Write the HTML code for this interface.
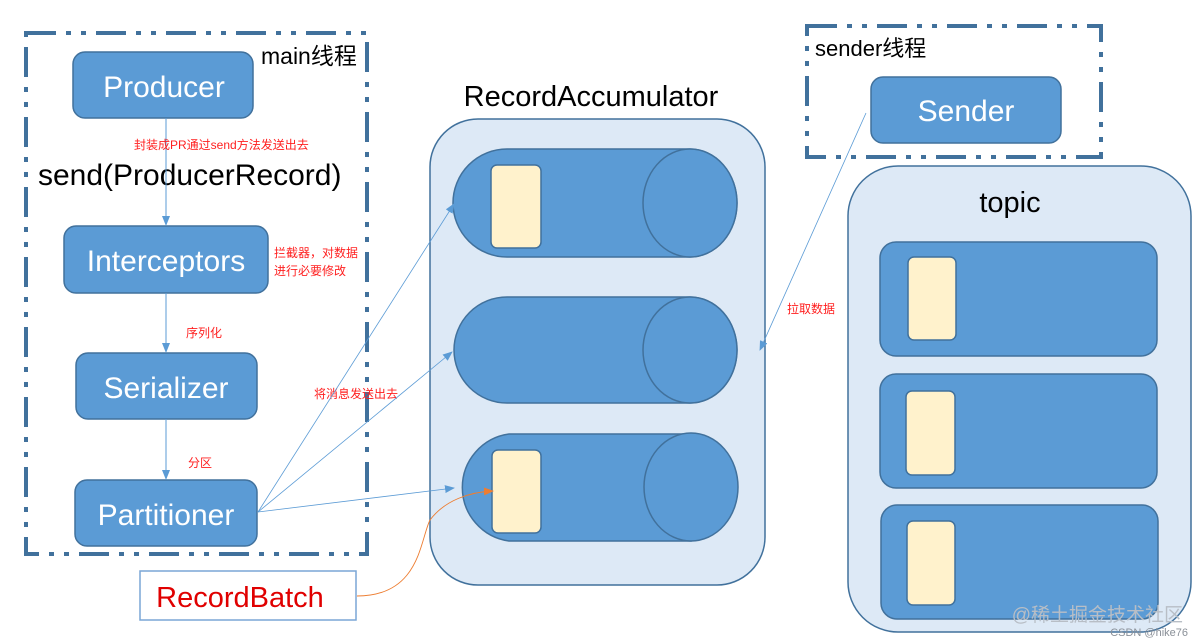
<!DOCTYPE html>
<html><head><meta charset="utf-8"><style>
html,body{margin:0;padding:0;background:#fff;}
svg{display:block;}
text{font-family:"Liberation Sans","Noto Sans CJK SC",sans-serif;}
</style></head><body>
<svg width="1203" height="644" viewBox="0 0 1203 644" xmlns="http://www.w3.org/2000/svg">
<defs>
<marker id="ab" markerWidth="10" markerHeight="8" refX="9" refY="4" orient="auto" markerUnits="userSpaceOnUse"><path d="M0,0 L10,4 L0,8 z" fill="#5b9bd5"/></marker>
<marker id="ao" markerWidth="10" markerHeight="8" refX="9" refY="4" orient="auto" markerUnits="userSpaceOnUse"><path d="M0,0 L10,4 L0,8 z" fill="#ed7d31"/></marker>
</defs>
<rect x="26" y="33" width="341" height="521" fill="none" stroke="#41719c" stroke-width="4" stroke-dasharray="30 10 5 10 5 10"/>
<rect x="807" y="26" width="294" height="131" fill="none" stroke="#41719c" stroke-width="4" stroke-dasharray="30 10 5 10 5 10"/>
<text x="261" y="64" font-size="23" fill="#000">main线程</text>
<text x="815" y="56" font-size="22" fill="#000">sender线程</text>

<g fill="#5b9bd5" stroke="#41719c" stroke-width="1.5">
<rect x="73" y="52" width="180" height="66" rx="12"/>
<rect x="64" y="226" width="204" height="67" rx="12"/>
<rect x="76" y="353" width="181" height="66" rx="12"/>
<rect x="75" y="480" width="182" height="66" rx="12"/>
<rect x="871" y="77" width="190" height="66" rx="12"/>
</g>
<g fill="#fff" font-size="30" text-anchor="middle">
<text x="164" y="97">Producer</text>
<text x="166" y="271">Interceptors</text>
<text x="166" y="398">Serializer</text>
<text x="166" y="525">Partitioner</text>
<text x="966" y="121">Sender</text>
</g>
<text x="38" y="185" font-size="30" fill="#000">send(ProducerRecord)</text>

<g stroke="#5b9bd5" stroke-width="1" fill="none">
<line x1="166" y1="118" x2="166" y2="225" marker-end="url(#ab)"/>
<line x1="166" y1="293" x2="166" y2="352" marker-end="url(#ab)"/>
<line x1="166" y1="419" x2="166" y2="479" marker-end="url(#ab)"/>
</g>
<g fill="#ff2020" font-size="12">
<text x="134" y="149">封装成PR通过send方法发送出去</text>
<text x="274" y="257">拦截器，对数据</text>
<text x="274" y="275">进行必要修改</text>
<text x="186" y="337">序列化</text>
<text x="188" y="467">分区</text>
<text x="314" y="398">将消息发送出去</text>
<text x="787" y="313">拉取数据</text>
</g>

<text x="591" y="106" font-size="29" fill="#000" text-anchor="middle">RecordAccumulator</text>
<rect x="430" y="119" width="335" height="466" rx="48" fill="#dde9f6" stroke="#41719c" stroke-width="1.5"/>
<g fill="#5b9bd5" stroke="#41719c" stroke-width="1.5">
<path d="M507,149 H690 A47,54 0 0 1 690,257 H507 A54,54 0 0 1 507,149 z"/>
<ellipse cx="690" cy="203" rx="47" ry="54"/>
<path d="M507,297 H690 A47,53 0 0 1 690,403 H507 A53,53 0 0 1 507,297 z"/>
<ellipse cx="690" cy="350" rx="47" ry="53"/>
<path d="M509,434 H691 A47,54 0 0 1 691,541 H509 A54,54 0 0 1 509,434 z"/>
<ellipse cx="691" cy="487" rx="47" ry="54"/>
</g>
<g fill="#fff2cc" stroke="#41719c" stroke-width="1.5">
<rect x="491" y="165" width="50" height="83" rx="6"/>
<rect x="492" y="450" width="49" height="83" rx="6"/>
</g>

<rect x="848" y="166" width="343" height="466" rx="50" fill="#dde9f6" stroke="#41719c" stroke-width="1.5"/>
<text x="1010" y="212" font-size="29" fill="#000" text-anchor="middle">topic</text>
<g fill="#5b9bd5" stroke="#41719c" stroke-width="1.5">
<rect x="880" y="242" width="277" height="114" rx="16"/>
<rect x="880" y="374" width="277" height="114" rx="16"/>
<rect x="881" y="505" width="277" height="114" rx="16"/>
</g>
<g fill="#fff2cc" stroke="#41719c" stroke-width="1.5">
<rect x="908" y="257" width="48" height="83" rx="6"/>
<rect x="906" y="391" width="49" height="84" rx="6"/>
<rect x="907" y="521" width="48" height="84" rx="6"/>
</g>

<g stroke="#5b9bd5" stroke-width="0.8" fill="none">
<line x1="258" y1="512" x2="454" y2="204" marker-end="url(#ab)"/>
<line x1="258" y1="512" x2="452" y2="352" marker-end="url(#ab)"/>
<line x1="258" y1="512" x2="454" y2="488" marker-end="url(#ab)"/>
<line x1="866" y1="113" x2="760" y2="350" marker-end="url(#ab)"/>
</g>

<rect x="140" y="571" width="216" height="49" fill="#fff" stroke="#7aa6d6" stroke-width="1.5"/>
<text x="240" y="607" font-size="29" fill="#e00000" text-anchor="middle">RecordBatch</text>
<path d="M357,596 C420,596 420,540 430,520 C445,500 470,492 493,491" fill="none" stroke="#ed7d31" stroke-width="0.9" marker-end="url(#ao)"/>

<text x="1183" y="621" font-size="19" fill="#b8bec6" text-anchor="end">@稀土掘金技术社区</text>
<text x="1188" y="636" font-size="11" fill="#8a9098" text-anchor="end">CSDN @hike76</text>
</svg>
</body></html>
